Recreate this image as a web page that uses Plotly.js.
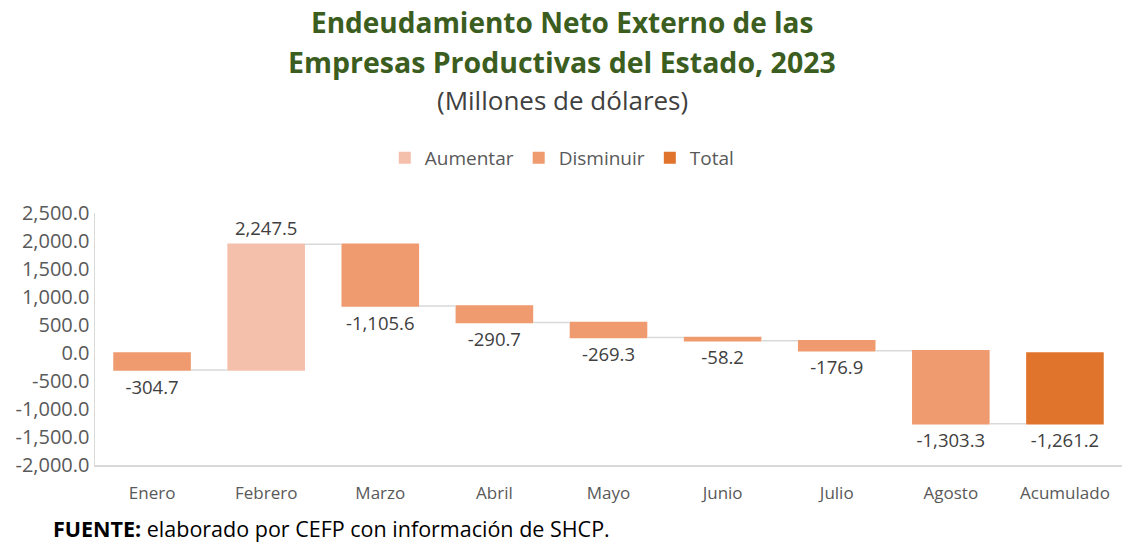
<!DOCTYPE html>
<html>
<head>
<meta charset="utf-8">
<script src="https://cdn.plot.ly/plotly-3.0.1.min.js"></script>
<style>html,body{margin:0;padding:0;background:#fff;}#chart{width:1122px;height:542px;}</style>
</head>
<body>
<div id="chart"></div>
<script>
const categories = ["Enero","Febrero","Marzo","Abril","Mayo","Junio","Julio","Agosto","Acumulado"];
const values = [-304.7, 2247.5, -1105.6, -290.7, -269.3, -58.2, -176.9, -1303.3, -1261.2];
const measures = ["relative","relative","relative","relative","relative","relative","relative","relative","total"];
const legendNames = ["Aumentar","Disminuir","Total"];
const tickVals = [2500,2000,1500,1000,500,0,-500,-1000,-1500,-2000];
const titleLines = ["Endeudamiento Neto Externo de las", "Empresas Productivas del Estado, 2023"];
const subtitle = "(Millones de dólares)";
const source = "<b>FUENTE:</b> elaborado por CEFP con información de SHCP.";

const colInc = "#F4C0AC", colDec = "#EF9A6F", colTot = "#E0742C";
const fmt = v => v.toLocaleString("en-US",{minimumFractionDigits:1,maximumFractionDigits:1});
const FONT = "Open Sans, sans-serif";

const traces = [{
  type: "waterfall",
  x: categories,
  y: values.map((v,i)=> measures[i]==="total" ? 0 : v),
  measure: measures,
  text: values.map(fmt),
  textposition: "outside",
  textfont: {family: FONT, size: 18.5, color: "#404040"},
  cliponaxis: false,
  increasing: {marker: {color: colInc}},
  decreasing: {marker: {color: colDec}},
  totals: {marker: {color: colTot}},
  connector: {mode: "between", line: {color: "#d9d9d9", width: 1.5}},
  showlegend: false,
  hoverinfo: "skip"
}];
const legCols = [colInc, colDec, colTot];
legendNames.forEach((n,i)=>{
  traces.push({type:"bar", x:[null], y:[null], name:n, marker:{color:legCols[i]}, showlegend:true, hoverinfo:"skip"});
});

// pixel row -> paper y (plot area rows 213..465)
const py = p => (465 - p) / 252;

const layout = {
  width: 1122, height: 542,
  margin: {l: 95, r: 0, t: 213, b: 77},
  paper_bgcolor: "#fff", plot_bgcolor: "#fff",
  font: {family: FONT, color: "#595959"},
  waterfallgap: 0.32,
  showlegend: true,
  legend: {orientation: "h", x: 0.455, xanchor: "center", y: py(158), yanchor: "middle",
    font: {family: FONT, size: 19, color: "#595959"}, traceorder: "normal"},
  xaxis: {type: "category", showgrid: false, showline: true, linecolor: "#d9d9d9", linewidth: 1.5,
    ticks: "", ticklabelstandoff: 12, tickfont: {family: FONT, size: 17, color: "#595959"},
    range: [-0.5, 8.5], fixedrange: true},
  yaxis: {range: [-2000, 2500], tickvals: tickVals, ticktext: tickVals.map(fmt), showgrid: false,
    zeroline: false, showline: true, linecolor: "#d9d9d9", linewidth: 1.5, ticks: "",
    tickfont: {family: FONT, size: 20, color: "#595959"}, fixedrange: true},
  annotations: [
    {text: "<b>" + titleLines[0] + "</b>", xref: "paper", yref: "paper", x: 0.455, y: py(22),
      xanchor: "center", yanchor: "middle", showarrow: false,
      font: {family: FONT, size: 28, color: "#3B5E20"}},
    {text: "<b>" + titleLines[1] + "</b>", xref: "paper", yref: "paper", x: 0.455, y: py(62),
      xanchor: "center", yanchor: "middle", showarrow: false,
      font: {family: FONT, size: 28.5, color: "#3B5E20"}},
    {text: subtitle, xref: "paper", yref: "paper", x: 0.455, y: py(100),
      xanchor: "center", yanchor: "middle", showarrow: false,
      font: {family: FONT, size: 26, color: "#404040"}},
    {text: source, xref: "paper", yref: "paper", x: -0.043, y: py(528), xanchor: "left", yanchor: "middle",
      showarrow: false, font: {family: FONT, size: 21.5, color: "#000"}}
  ]
};
Plotly.newPlot("chart", traces, layout, {displayModeBar: false, staticPlot: true});
</script>
</body>
</html>
